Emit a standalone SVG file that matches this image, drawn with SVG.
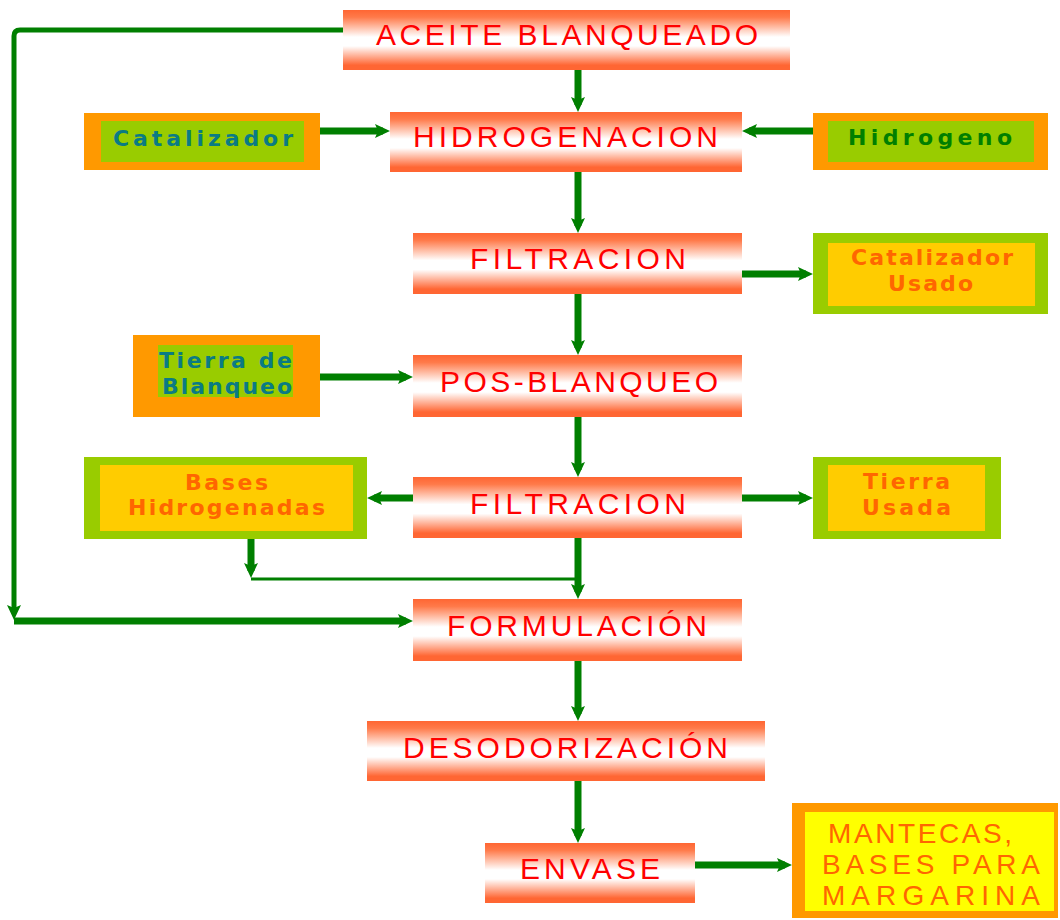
<svg xmlns="http://www.w3.org/2000/svg" width="1060" height="920" viewBox="0 0 1060 920">
  <defs>
    <linearGradient id="stepFill" x1="0" y1="0" x2="0" y2="1">
      <stop offset="0" stop-color="#ff6633"/>
      <stop offset="0.12" stop-color="#ff7a4a"/>
      <stop offset="0.45" stop-color="#ffffff"/>
      <stop offset="0.6" stop-color="#ffffff"/>
      <stop offset="0.92" stop-color="#ff6633"/>
      <stop offset="1" stop-color="#ff6633"/>
    </linearGradient>
    <marker id="arrow" viewBox="0 0 16 16" refX="8" refY="8" markerWidth="16" markerHeight="16" markerUnits="userSpaceOnUse" orient="auto">
      <path d="M0,1 L15,8 L0,15 L3,8 z" fill="#007f00"/>
    </marker>
  </defs>
  <style>
    .step { fill: url(#stepFill); }
    .stepText { font-family: "Liberation Sans", Arial, sans-serif; font-size: 30px; fill: #ff0000; }
    .sideText { font-family: "DejaVu Sans", Verdana, sans-serif; font-weight: bold; font-size: 22px; }
    .teal { fill: #0a7b84; }
    .green { fill: #007f00; }
    .orangeText { fill: #ff6600; }
    .flowArrow { fill: none; stroke: #007f00; stroke-width: 7; marker-end: url(#arrow); }
    .thin { fill: none; stroke: #007f00; stroke-width: 3; }
    .finalText { font-family: "Liberation Sans", Arial, sans-serif; font-size: 28px; fill: #ff6600; }
  </style>
  <rect width="1060" height="920" fill="#ffffff"/>

  <!-- connectors -->
  <g id="connectors">
    <path class="flowArrow" d="M578,70 V105"/>
    <path d="M343,30 H20 Q14,30 14,36 V613" fill="none" stroke="#007f00" stroke-width="5" marker-end="url(#arrow)"/>
    <path class="flowArrow" stroke-width="6" d="M14,621 H406"/>
    <path class="flowArrow" stroke-width="6" d="M297,131 H383"/>
    <path class="flowArrow" stroke-width="6" d="M813,131 H749"/>
    <path class="flowArrow" d="M578,172 V226"/>
    <path class="flowArrow" stroke-width="6" d="M742,274 H806"/>
    <path class="flowArrow" d="M578,294 V348"/>
    <path class="flowArrow" stroke-width="6" d="M320,377 H406"/>
    <path class="flowArrow" d="M578,417 V470"/>
    <path class="flowArrow" stroke-width="6" d="M413,498 H374"/>
    <path class="flowArrow" stroke-width="6" d="M742,498 H806"/>
    <path class="flowArrow" d="M578,538 V592"/>
    <path class="flowArrow" d="M251,539 V571"/>
    <path class="thin" d="M251,579 H578"/>
    <path class="flowArrow" d="M578,661 V714"/>
    <path class="flowArrow" d="M578,781 V836"/>
    <path class="flowArrow" stroke-width="6" d="M695,865 H785"/>
  </g>

  <!-- process steps -->
  <g id="aceite">
    <rect class="step" x="343" y="10" width="447" height="60"/>
    <text class="stepText" x="376" y="45" textLength="382" lengthAdjust="spacing">ACEITE BLANQUEADO</text>
  </g>
  <g id="hidrogenacion">
    <rect class="step" x="390" y="112" width="352" height="60"/>
    <text class="stepText" x="413" y="147" textLength="305" lengthAdjust="spacing">HIDROGENACION</text>
  </g>
  <g id="filtracion1">
    <rect class="step" x="413" y="233" width="329" height="61"/>
    <text class="stepText" x="470" y="269" textLength="216" lengthAdjust="spacing">FILTRACION</text>
  </g>
  <g id="posblanqueo">
    <rect class="step" x="413" y="355" width="329" height="62"/>
    <text class="stepText" x="440" y="392" textLength="278" lengthAdjust="spacing">POS-BLANQUEO</text>
  </g>
  <g id="filtracion2">
    <rect class="step" x="413" y="477" width="329" height="61"/>
    <text class="stepText" x="470" y="514" textLength="216" lengthAdjust="spacing">FILTRACION</text>
  </g>
  <g id="formulacion">
    <rect class="step" x="413" y="599" width="329" height="62"/>
    <text class="stepText" x="447" y="636" textLength="260" lengthAdjust="spacing">FORMULACIÓN</text>
  </g>
  <g id="desodorizacion">
    <rect class="step" x="367" y="721" width="398" height="60"/>
    <text class="stepText" x="403" y="758" textLength="325" lengthAdjust="spacing">DESODORIZACIÓN</text>
  </g>
  <g id="envase">
    <rect class="step" x="485" y="843" width="210" height="60"/>
    <text class="stepText" x="520" y="879" textLength="140" lengthAdjust="spacing">ENVASE</text>
  </g>

  <!-- inputs and outputs -->
  <g id="catalizador">
    <rect x="84" y="113" width="236" height="57" fill="#ff9900"/>
    <rect x="101" y="121" width="203" height="41" fill="#99cc00"/>
    <text class="sideText teal" x="113" y="146" font-size="24" textLength="180" lengthAdjust="spacing">Catalizador</text>
  </g>
  <g id="hidrogeno">
    <rect x="813" y="113" width="235" height="57" fill="#ff9900"/>
    <rect x="828" y="121" width="206" height="41" fill="#99cc00"/>
    <text class="sideText green" x="848" y="145" font-size="24" textLength="164" lengthAdjust="spacing">Hidrogeno</text>
  </g>
  <g id="catalizador-usado">
    <rect x="813" y="233" width="235" height="81" fill="#99cc00"/>
    <rect x="828" y="243" width="207" height="63" fill="#ffcc00"/>
    <text class="sideText orangeText" x="851" y="265" textLength="162" lengthAdjust="spacing">Catalizador</text>
    <text class="sideText orangeText" x="888" y="291" textLength="85" lengthAdjust="spacing">Usado</text>
  </g>
  <g id="tierra-blanqueo">
    <rect x="133" y="335" width="187" height="82" fill="#ff9900"/>
    <rect x="158" y="345" width="135" height="52" fill="#99cc00"/>
    <text class="sideText teal" x="159" y="368" textLength="133" lengthAdjust="spacing">Tierra de</text>
    <text class="sideText teal" x="162" y="394" textLength="130" lengthAdjust="spacing">Blanqueo</text>
  </g>
  <g id="bases-hidrogenadas">
    <rect x="84" y="457" width="283" height="82" fill="#99cc00"/>
    <rect x="100" y="465" width="253" height="66" fill="#ffcc00"/>
    <text class="sideText orangeText" x="185" y="490" textLength="83" lengthAdjust="spacing">Bases</text>
    <text class="sideText orangeText" x="128" y="515" textLength="197" lengthAdjust="spacing">Hidrogenadas</text>
  </g>
  <g id="tierra-usada">
    <rect x="813" y="457" width="188" height="82" fill="#99cc00"/>
    <rect x="828" y="465" width="157" height="66" fill="#ffcc00"/>
    <text class="sideText orangeText" x="863" y="489" textLength="87" lengthAdjust="spacing">Tierra</text>
    <text class="sideText orangeText" x="862" y="515" textLength="89" lengthAdjust="spacing">Usada</text>
  </g>
  <g id="mantecas">
    <rect x="792" y="803" width="266" height="115" fill="#ff9900"/>
    <rect x="805" y="812" width="249" height="99" fill="#ffff00"/>
    <text class="finalText" x="828" y="843" textLength="184" lengthAdjust="spacing">MANTECAS,</text>
    <text class="finalText" x="822" y="874" textLength="218" lengthAdjust="spacing">BASES PARA</text>
    <text class="finalText" x="822" y="905" textLength="218" lengthAdjust="spacing">MARGARINA</text>
  </g>
</svg>
